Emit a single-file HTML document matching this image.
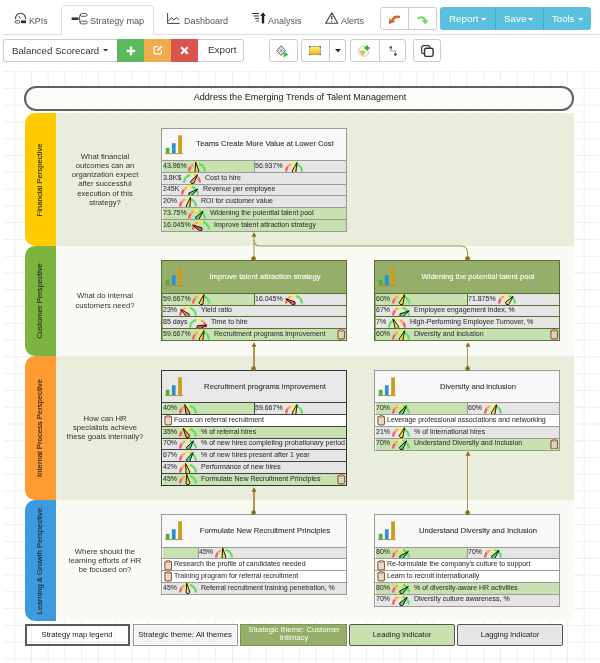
<!DOCTYPE html>
<html><head><meta charset="utf-8"><style>
html,body{margin:0;padding:0}
body{width:600px;height:663px;overflow:hidden;position:relative;background:#fff;font-family:"Liberation Sans",sans-serif}
.a{position:absolute}
.t{white-space:nowrap;will-change:transform}
</style></head><body>
<div class="a" style="left:3.00px;top:33.50px;width:597.00px;height:1.00px;background:#ddd"></div>
<div class="a" style="left:60.60px;top:5.00px;width:93.80px;height:29.50px;background:#fff;border:1px solid #ddd;border-bottom:none;border-radius:4px 4px 0 0;box-sizing:border-box;height:30px"></div>
<div class="a t" style="left:28.70px;top:17.25px;font-size:8.8px;line-height:8.8px;color:#555;">KPIs</div>
<div class="a t" style="left:90.00px;top:17.00px;font-size:9.1px;line-height:9.1px;color:#555;">Strategy map</div>
<div class="a t" style="left:183.70px;top:17.08px;font-size:9px;line-height:9px;color:#555;">Dashboard</div>
<div class="a t" style="left:268.00px;top:17.08px;font-size:9px;line-height:9px;color:#555;">Analysis</div>
<div class="a t" style="left:340.50px;top:17.08px;font-size:9px;line-height:9px;color:#555;">Alerts</div>
<svg class="a" style="left:13.50px;top:12.00px" width="13" height="12" viewBox="0 0 13 12"><path d="M1.6 7.2 A5 5 0 1 1 11.4 7.2" fill="none" stroke="#444" stroke-width="1.1"/><path d="M6.5 6.5 L4.6 4.2" stroke="#444" stroke-width="1"/><rect x="1" y="8.6" width="5" height="2.4" rx="1.2" fill="none" stroke="#444" stroke-width="0.9"/><rect x="7" y="8.4" width="5" height="2.8" fill="#333"/></svg>
<svg class="a" style="left:71.00px;top:11.50px" width="17" height="13" viewBox="0 0 17 13"><rect x="0.6" y="5.4" width="6.6" height="2.6" fill="#333"/><path d="M7 6.7 H8.4 M9.6 3 Q8.6 3 8.6 4.4 V9.6 Q8.6 10.4 9.6 10.4" stroke="#444" stroke-width="0.9" fill="none"/><rect x="9.3" y="1.6" width="6.8" height="2.7" rx="1.35" fill="none" stroke="#444" stroke-width="0.9"/><rect x="9.3" y="9.2" width="6.8" height="2.7" rx="1.35" fill="none" stroke="#444" stroke-width="0.9"/></svg>
<svg class="a" style="left:167.00px;top:13.00px" width="13" height="11" viewBox="0 0 13 11"><path d="M0.6 0 V10.4 H12.8" fill="none" stroke="#444" stroke-width="1"/><path d="M1.5 8 L4.5 4.5 L7 7 L9.5 4.5 L12 6.5" fill="none" stroke="#444" stroke-width="1"/></svg>
<svg class="a" style="left:251.50px;top:12.00px" width="14" height="12" viewBox="0 0 14 12"><path d="M0 1.5 H7 M1.5 4 H7 M3 6.5 H7 M4.5 9 H7" stroke="#333" stroke-width="1.1"/><path d="M11 11.5 V2.5" stroke="#222" stroke-width="2.4"/><path d="M8.3 4 L11 0.3 L13.7 4 Z" fill="#222"/></svg>
<svg class="a" style="left:325.00px;top:12.00px" width="13.5" height="12" viewBox="0 0 13.5 12"><path d="M6.75 0.9 L12.8 11.2 H0.7 Z" fill="none" stroke="#444" stroke-width="1.1" stroke-linejoin="round"/><path d="M6.75 4 V7.8" stroke="#444" stroke-width="1.2"/><circle cx="6.75" cy="9.4" r="0.7" fill="#444"/></svg>
<div class="a" style="left:379.60px;top:7.20px;width:57.50px;height:22.60px;border:1px solid #ccc;border-radius:3px;box-sizing:border-box;background:#fff"></div>
<div class="a" style="left:408.20px;top:7.20px;width:1.00px;height:22.60px;background:#ccc"></div>
<svg class="a" style="left:387.50px;top:15.00px" width="12" height="10" viewBox="0 0 12 10"><path d="M10.8 2 Q6.5 0.6 4.6 5.2" fill="none" stroke="#d2691e" stroke-width="2.4" stroke-linecap="round"/><path d="M0.8 9.2 L1.4 3.6 L7.4 6.6 Z" fill="#d2691e"/></svg>
<svg class="a" style="left:416.50px;top:15.00px" width="12" height="10" viewBox="0 0 12 10"><path d="M1.5 3 Q6.5 1 8.3 5.5" fill="none" stroke="#7fd46a" stroke-width="2.4" stroke-linecap="round"/><path d="M4.6 5.2 L11.6 5.2 L8.3 9.4 Z" fill="#7fd46a"/></svg>
<div class="a" style="left:439.80px;top:7.40px;width:151.70px;height:22.30px;background:#5bc0de;border-radius:3px"></div>
<div class="a" style="left:495.00px;top:7.40px;width:0.80px;height:22.30px;background:#46a9c8"></div>
<div class="a" style="left:542.70px;top:7.40px;width:0.80px;height:22.30px;background:#46a9c8"></div>
<div class="a t" style="left:448.80px;top:13.50px;font-size:9.8px;line-height:9.8px;color:#fff;">Report</div>
<svg class="a" style="left:480.60px;top:17.80px" width="5.2" height="3.0999999999999996" viewBox="0 0 5.2 3.0999999999999996"><path d="M0 0 H5.2 L2.6 2.8 Z" fill="#fff"/></svg>
<div class="a t" style="left:503.50px;top:13.50px;font-size:9.8px;line-height:9.8px;color:#fff;">Save</div>
<svg class="a" style="left:527.80px;top:17.80px" width="5.2" height="3.0999999999999996" viewBox="0 0 5.2 3.0999999999999996"><path d="M0 0 H5.2 L2.6 2.8 Z" fill="#fff"/></svg>
<div class="a t" style="left:552.00px;top:13.67px;font-size:9.6px;line-height:9.6px;color:#fff;">Tools</div>
<svg class="a" style="left:577.50px;top:17.80px" width="5.2" height="3.0999999999999996" viewBox="0 0 5.2 3.0999999999999996"><path d="M0 0 H5.2 L2.6 2.8 Z" fill="#fff"/></svg>
<div class="a" style="left:3.00px;top:38.90px;width:114.00px;height:22.70px;border:1px solid #ccc;border-right:none;border-radius:3px 0 0 3px;box-sizing:border-box;background:#fff"></div>
<div class="a t" style="left:12.40px;top:45.59px;font-size:9.7px;line-height:9.7px;color:#333;">Balanced Scorecard</div>
<svg class="a" style="left:103.00px;top:49.30px" width="5.2" height="2.9" viewBox="0 0 5.2 2.9"><path d="M0 0 H5.2 L2.6 2.6 Z" fill="#333"/></svg>
<div class="a" style="left:116.50px;top:38.90px;width:27.80px;height:22.70px;background:#5cb85c"></div>
<div class="a" style="left:144.30px;top:38.90px;width:26.80px;height:22.70px;background:#f0ad4e"></div>
<div class="a" style="left:171.10px;top:38.90px;width:27.10px;height:22.70px;background:#d9534f"></div>
<div class="a" style="left:198.20px;top:38.90px;width:46.00px;height:22.70px;border:1px solid #ccc;border-left:none;border-radius:0 3px 3px 0;box-sizing:border-box;background:#fff"></div>
<div class="a t" style="left:207.50px;top:45.42px;font-size:9.9px;line-height:9.9px;color:#333;">Export</div>
<svg class="a" style="left:125.50px;top:45.50px" width="10" height="10" viewBox="0 0 10 10"><path d="M5 0.8 V9.2 M0.8 5 H9.2" stroke="#fff" stroke-width="2.3"/></svg>
<svg class="a" style="left:153.00px;top:45.30px" width="10" height="10" viewBox="0 0 10 10"><path d="M5.5 1.6 H2 Q1.2 1.6 1.2 2.4 V8 Q1.2 8.8 2 8.8 H7.6 Q8.4 8.8 8.4 8 V5" fill="none" stroke="#fff" stroke-width="1.3"/><path d="M4 6.2 L4.4 4.6 L8.2 0.8 L9.3 1.9 L5.5 5.7 Z" fill="#fff"/></svg>
<svg class="a" style="left:180.00px;top:45.50px" width="9" height="9" viewBox="0 0 9 9"><path d="M1.2 1.2 L7.8 7.8 M7.8 1.2 L1.2 7.8" stroke="#fff" stroke-width="2.2"/></svg>
<div class="a" style="left:268.50px;top:38.90px;width:29.00px;height:22.70px;border:1px solid #ccc;border-radius:3px;box-sizing:border-box;background:#fff"></div>
<div class="a" style="left:300.50px;top:38.90px;width:45.60px;height:22.70px;border:1px solid #ccc;border-radius:3px;box-sizing:border-box;background:#fff"></div>
<div class="a" style="left:329.00px;top:38.90px;width:1.00px;height:22.70px;background:#ccc"></div>
<div class="a" style="left:349.60px;top:38.90px;width:56.80px;height:22.70px;border:1px solid #ccc;border-radius:3px;box-sizing:border-box;background:#fff"></div>
<div class="a" style="left:378.70px;top:38.90px;width:1.00px;height:22.70px;background:#ccc"></div>
<div class="a" style="left:412.60px;top:38.90px;width:28.60px;height:22.70px;border:1px solid #ccc;border-radius:3px;box-sizing:border-box;background:#fff"></div>
<svg class="a" style="left:276.00px;top:44.50px" width="14" height="13" viewBox="0 0 14 13"><path d="M5.2 0.8 L9.6 5.6 L5.2 10.4 L0.8 5.6 Z" fill="none" stroke="#666" stroke-width="1"/><path d="M5.2 0.8 V10.4 M0.8 5.6 H9.6 M3 3.2 L7.4 8 M7.4 3.2 L3 8" stroke="#888" stroke-width="0.6"/><path d="M7.6 6.4 L12.6 9.4 L7.6 12.4 Z" fill="#33c433"/></svg>
<svg class="a" style="left:308.50px;top:45.80px" width="12" height="9.5" viewBox="0 0 12 9.5"><defs><linearGradient id="yg" x1="0" y1="0" x2="0" y2="1"><stop offset="0" stop-color="#f6ea8a"/><stop offset="0.5" stop-color="#f5d640"/><stop offset="1" stop-color="#f0a830"/></linearGradient></defs><rect x="0.6" y="0.6" width="10.8" height="8.3" fill="url(#yg)" stroke="#9a8a50" stroke-width="0.6"/><circle cx="0.8" cy="0.8" r="0.8" fill="#444"/><circle cx="11.2" cy="0.8" r="0.8" fill="#444"/><circle cx="0.8" cy="8.7" r="0.8" fill="#444"/><circle cx="11.2" cy="8.7" r="0.8" fill="#444"/></svg>
<svg class="a" style="left:334.80px;top:49.20px" width="6" height="3.5" viewBox="0 0 6 3.5"><path d="M0 0 H6 L3.0 3.2 Z" fill="#222"/></svg>
<svg class="a" style="left:358.00px;top:45.00px" width="12.5" height="12" viewBox="0 0 12.5 12"><circle cx="5.8" cy="6.2" r="5.2" fill="#f6f6f0" stroke="#c8c8c0" stroke-width="0.9"/><path d="M2.2 6.4 L5.6 5.8 L6.8 7.6 L4.6 10.4 Z" fill="#e9c430" stroke="#b8961a" stroke-width="0.5"/><path d="M9 0.4 V5.6 M6.4 3 H11.6" stroke="#2bb52b" stroke-width="1.9"/></svg>
<svg class="a" style="left:388.50px;top:45.50px" width="9" height="10" viewBox="0 0 9 10"><circle cx="1.8" cy="1.5" r="1.3" fill="#444"/><circle cx="6.4" cy="8.4" r="1.3" fill="#444"/><path d="M1.8 1.5 V5 H6.4 V8.4" fill="none" stroke="#777" stroke-width="0.7"/></svg>
<svg class="a" style="left:420.50px;top:44.80px" width="13" height="12" viewBox="0 0 13 12"><rect x="0.7" y="0.7" width="8.2" height="8" rx="2" fill="none" stroke="#333" stroke-width="1.2"/><rect x="3.5" y="3.2" width="8.6" height="8.2" rx="2" fill="#fff" stroke="#333" stroke-width="1.4"/></svg>
<div class="a" style="left:4px;top:70px;width:596px;height:593px;background-color:#fff;background-image:linear-gradient(to right,#eeeeee 1px,transparent 1px),linear-gradient(to bottom,#eeeeee 1px,transparent 1px);background-size:16.755px 16.79px;background-position:10.2px 1.1px"></div>
<div class="a" style="left:24.40px;top:86.40px;width:550.10px;height:24.40px;border:2px solid #606060;border-radius:12.2px;box-sizing:border-box;background:#fbfbf7"></div>
<div class="a t" style="left:100.00px;top:93.20px;width:400px;text-align:center;font-size:9.1px;line-height:9.1px;color:#222;">Address the Emerging Trends of Talent Management</div>
<div class="a" style="left:56.30px;top:113.00px;width:518.00px;height:133.00px;background:#e9eddc"></div>
<div class="a" style="left:25.00px;top:113.00px;width:31.30px;height:133.00px;background:#ffcb00;border-radius:10px 0 0 10px"></div>
<div class="a t" style="left:-59.70px;top:174.50px;width:200px;height:10px;line-height:10px;text-align:center;font-size:7.7px;color:#222;-webkit-text-stroke:0.1px #222;transform:rotate(-90deg)">Financial Perspective</div>
<div class="a t" style="left:35.00px;top:152.78px;width:140px;text-align:center;font-size:7.7px;line-height:7.7px;color:#333;">What financial</div>
<div class="a t" style="left:35.00px;top:161.98px;width:140px;text-align:center;font-size:7.7px;line-height:7.7px;color:#333;">outcomes can an</div>
<div class="a t" style="left:35.00px;top:171.18px;width:140px;text-align:center;font-size:7.7px;line-height:7.7px;color:#333;">organization expect</div>
<div class="a t" style="left:35.00px;top:180.38px;width:140px;text-align:center;font-size:7.7px;line-height:7.7px;color:#333;">after successful</div>
<div class="a t" style="left:35.00px;top:189.58px;width:140px;text-align:center;font-size:7.7px;line-height:7.7px;color:#333;">execution of this</div>
<div class="a t" style="left:35.00px;top:198.78px;width:140px;text-align:center;font-size:7.7px;line-height:7.7px;color:#333;">strategy?</div>
<div class="a" style="left:56.30px;top:246.00px;width:518.00px;height:109.50px;background:#fafbf5"></div>
<div class="a" style="left:25.00px;top:246.00px;width:31.30px;height:109.50px;background:#7bb53f;border-radius:10px 0 0 10px"></div>
<div class="a t" style="left:-59.70px;top:295.75px;width:200px;height:10px;line-height:10px;text-align:center;font-size:7.7px;color:#222;-webkit-text-stroke:0.1px #222;transform:rotate(-90deg)">Customer Perspective</div>
<div class="a t" style="left:35.00px;top:292.43px;width:140px;text-align:center;font-size:7.7px;line-height:7.7px;color:#333;">What do internal</div>
<div class="a t" style="left:35.00px;top:301.63px;width:140px;text-align:center;font-size:7.7px;line-height:7.7px;color:#333;">customers need?</div>
<div class="a" style="left:56.30px;top:355.50px;width:518.00px;height:144.50px;background:#e9eddc"></div>
<div class="a" style="left:25.00px;top:355.50px;width:31.30px;height:144.50px;background:#fd9a32;border-radius:10px 0 0 10px"></div>
<div class="a t" style="left:-59.70px;top:422.75px;width:200px;height:10px;line-height:10px;text-align:center;font-size:7.7px;color:#222;-webkit-text-stroke:0.1px #222;transform:rotate(-90deg)">Internal Process Perspective</div>
<div class="a t" style="left:35.00px;top:414.83px;width:140px;text-align:center;font-size:7.7px;line-height:7.7px;color:#333;">How can HR</div>
<div class="a t" style="left:35.00px;top:424.03px;width:140px;text-align:center;font-size:7.7px;line-height:7.7px;color:#333;">specialists achieve</div>
<div class="a t" style="left:35.00px;top:433.23px;width:140px;text-align:center;font-size:7.7px;line-height:7.7px;color:#333;">these goals internally?</div>
<div class="a" style="left:56.30px;top:500.00px;width:518.00px;height:121.00px;background:#fafbf5"></div>
<div class="a" style="left:25.00px;top:500.00px;width:31.30px;height:121.00px;background:#3e9ade;border-radius:10px 0 0 10px"></div>
<div class="a t" style="left:-59.70px;top:555.50px;width:200px;height:10px;line-height:10px;text-align:center;font-size:7.7px;color:#222;-webkit-text-stroke:0.1px #222;transform:rotate(-90deg)">Learning &amp; Growth Perspective</div>
<div class="a t" style="left:35.00px;top:547.58px;width:140px;text-align:center;font-size:7.7px;line-height:7.7px;color:#333;">Where should the</div>
<div class="a t" style="left:35.00px;top:556.78px;width:140px;text-align:center;font-size:7.7px;line-height:7.7px;color:#333;">learning efforts of HR</div>
<div class="a t" style="left:35.00px;top:565.98px;width:140px;text-align:center;font-size:7.7px;line-height:7.7px;color:#333;">be focused on?</div>
<div class="a" style="left:161.20px;top:127.50px;width:186.10px;height:104.30px;background:#f8f8f8;border:1.3px solid #9a9a9a;box-sizing:border-box"></div>
<svg class="a" style="left:164.70px;top:134.50px" width="19" height="20" viewBox="0 0 19 20"><rect x="0.8" y="12.8" width="3.7" height="5.6" fill="#4cb52e"/><rect x="6.9" y="8.2" width="3.7" height="10.2" fill="#2b8fd0"/><rect x="13.2" y="0.3" width="3.7" height="18.1" fill="#cf9a1a"/><path d="M0 18.6 H18" stroke="#a88a40" stroke-width="0.9"/></svg>
<div class="a t" style="left:172.15px;top:140.22px;width:186.1px;text-align:center;font-size:7.65px;line-height:7.65px;color:#333;-webkit-text-stroke:0.1px #333">Teams Create More Value at Lower Cost</div>
<div class="a" style="left:162.50px;top:160.50px;width:91.75px;height:11.75px;background:#c8e1b1"></div>
<div class="a" style="left:254.25px;top:160.50px;width:91.75px;height:11.75px;background:#e5e5e5"></div>
<div class="a" style="left:253.65px;top:160.50px;width:1.20px;height:11.75px;background:#9a9a9a"></div>
<div class="a t" style="left:162.70px;top:161.77px;font-size:7.0px;line-height:7.0px;color:#333;-webkit-text-stroke:0.06px #333">43.96%</div>
<svg class="a" style="left:188.44px;top:161.50px" width="18" height="11.5" viewBox="0 0 18 11.5"><path d="M1.10 9.60 A7.9 7.9 0 0 1 2.77 4.74" fill="none" stroke="#fa5a5a" stroke-width="2.3"/><path d="M2.77 4.74 A7.9 7.9 0 0 1 6.04 2.28" fill="none" stroke="#fca453" stroke-width="2.3"/><path d="M6.04 2.28 A7.9 7.9 0 0 1 10.91 1.93" fill="none" stroke="#fbf03e" stroke-width="2.3"/><path d="M10.91 1.93 A7.9 7.9 0 0 1 16.90 9.60" fill="none" stroke="#62dd62" stroke-width="2.3"/><path d="M7.66 0.09 L10.98 9.32 Q9.31 11.78 7.02 9.88 Z" fill="#f0e030" stroke="#111" stroke-width="0.95" stroke-linejoin="round"/></svg>
<div class="a t" style="left:255.05px;top:161.77px;font-size:7.0px;line-height:7.0px;color:#333;-webkit-text-stroke:0.06px #333">56.937%</div>
<svg class="a" style="left:284.68px;top:161.50px" width="18" height="11.5" viewBox="0 0 18 11.5"><path d="M1.10 9.60 A7.9 7.9 0 0 1 2.77 4.74" fill="none" stroke="#fa5a5a" stroke-width="2.3"/><path d="M2.77 4.74 A7.9 7.9 0 0 1 6.04 2.28" fill="none" stroke="#fca453" stroke-width="2.3"/><path d="M6.04 2.28 A7.9 7.9 0 0 1 10.91 1.93" fill="none" stroke="#fbf03e" stroke-width="2.3"/><path d="M10.91 1.93 A7.9 7.9 0 0 1 16.90 9.60" fill="none" stroke="#62dd62" stroke-width="2.3"/><path d="M11.97 0.47 L10.90 10.22 Q8.32 11.69 7.10 8.98 Z" fill="#f0e030" stroke="#111" stroke-width="0.95" stroke-linejoin="round"/></svg>
<div class="a" style="left:161.20px;top:160.00px;width:186.10px;height:1.05px;background:#9a9a9a"></div>
<div class="a" style="left:162.50px;top:172.25px;width:183.50px;height:11.75px;background:#e5e5e5"></div>
<div class="a t" style="left:162.70px;top:173.52px;font-size:7.0px;line-height:7.0px;color:#333;-webkit-text-stroke:0.06px #333">3.8K$</div>
<svg class="a" style="left:182.99px;top:173.25px" width="18" height="11.5" viewBox="0 0 18 11.5"><path d="M1.10 9.60 A7.9 7.9 0 0 1 7.09 1.93" fill="none" stroke="#62dd62" stroke-width="2.3"/><path d="M7.09 1.93 A7.9 7.9 0 0 1 11.96 2.28" fill="none" stroke="#fbf03e" stroke-width="2.3"/><path d="M11.96 2.28 A7.9 7.9 0 0 1 15.23 4.74" fill="none" stroke="#fca453" stroke-width="2.3"/><path d="M15.23 4.74 A7.9 7.9 0 0 1 16.90 9.60" fill="none" stroke="#fa5a5a" stroke-width="2.3"/><path d="M14.51 1.74 L10.64 10.75 Q7.74 11.40 7.36 8.45 Z" fill="#f59a3a" stroke="#111" stroke-width="0.95" stroke-linejoin="round"/></svg>
<div class="a t" style="left:204.79px;top:173.52px;font-size:7.0px;line-height:7.0px;color:#333;-webkit-text-stroke:0.06px #333">Cost to hire</div>
<div class="a" style="left:161.20px;top:171.75px;width:186.10px;height:1.05px;background:#9a9a9a"></div>
<div class="a" style="left:162.50px;top:184.00px;width:183.50px;height:11.75px;background:#e5e5e5"></div>
<div class="a t" style="left:162.70px;top:185.27px;font-size:7.0px;line-height:7.0px;color:#333;-webkit-text-stroke:0.06px #333">245K</div>
<svg class="a" style="left:181.05px;top:185.00px" width="18" height="11.5" viewBox="0 0 18 11.5"><path d="M1.10 9.60 A7.9 7.9 0 0 1 2.77 4.74" fill="none" stroke="#fa5a5a" stroke-width="2.3"/><path d="M2.77 4.74 A7.9 7.9 0 0 1 6.04 2.28" fill="none" stroke="#fca453" stroke-width="2.3"/><path d="M6.04 2.28 A7.9 7.9 0 0 1 10.91 1.93" fill="none" stroke="#fbf03e" stroke-width="2.3"/><path d="M10.91 1.93 A7.9 7.9 0 0 1 16.90 9.60" fill="none" stroke="#62dd62" stroke-width="2.3"/><path d="M16.86 4.09 L10.15 11.24 Q7.20 10.86 7.85 7.96 Z" fill="#5fd35f" stroke="#111" stroke-width="0.95" stroke-linejoin="round"/></svg>
<div class="a t" style="left:202.85px;top:185.27px;font-size:7.0px;line-height:7.0px;color:#333;-webkit-text-stroke:0.06px #333">Revenue per employee</div>
<div class="a" style="left:161.20px;top:183.50px;width:186.10px;height:1.05px;background:#9a9a9a"></div>
<div class="a" style="left:162.50px;top:195.75px;width:183.50px;height:11.75px;background:#e5e5e5"></div>
<div class="a t" style="left:162.70px;top:197.02px;font-size:7.0px;line-height:7.0px;color:#333;-webkit-text-stroke:0.06px #333">20%</div>
<svg class="a" style="left:178.71px;top:196.75px" width="18" height="11.5" viewBox="0 0 18 11.5"><path d="M1.10 9.60 A7.9 7.9 0 0 1 2.77 4.74" fill="none" stroke="#fa5a5a" stroke-width="2.3"/><path d="M2.77 4.74 A7.9 7.9 0 0 1 6.04 2.28" fill="none" stroke="#fca453" stroke-width="2.3"/><path d="M6.04 2.28 A7.9 7.9 0 0 1 10.91 1.93" fill="none" stroke="#fbf03e" stroke-width="2.3"/><path d="M10.91 1.93 A7.9 7.9 0 0 1 16.90 9.60" fill="none" stroke="#62dd62" stroke-width="2.3"/><path d="M11.48 0.33 L10.93 10.12 Q8.43 11.73 7.07 9.08 Z" fill="#f0e030" stroke="#111" stroke-width="0.95" stroke-linejoin="round"/></svg>
<div class="a t" style="left:200.51px;top:197.02px;font-size:7.0px;line-height:7.0px;color:#333;-webkit-text-stroke:0.06px #333">ROI for customer value</div>
<div class="a" style="left:161.20px;top:195.25px;width:186.10px;height:1.05px;background:#9a9a9a"></div>
<div class="a" style="left:162.50px;top:207.50px;width:183.50px;height:11.75px;background:#c8e1b1"></div>
<div class="a t" style="left:162.70px;top:208.77px;font-size:7.0px;line-height:7.0px;color:#333;-webkit-text-stroke:0.06px #333">73.75%</div>
<svg class="a" style="left:188.44px;top:208.50px" width="18" height="11.5" viewBox="0 0 18 11.5"><path d="M1.10 9.60 A7.9 7.9 0 0 1 2.77 4.74" fill="none" stroke="#fa5a5a" stroke-width="2.3"/><path d="M2.77 4.74 A7.9 7.9 0 0 1 6.04 2.28" fill="none" stroke="#fca453" stroke-width="2.3"/><path d="M6.04 2.28 A7.9 7.9 0 0 1 10.91 1.93" fill="none" stroke="#fbf03e" stroke-width="2.3"/><path d="M10.91 1.93 A7.9 7.9 0 0 1 16.90 9.60" fill="none" stroke="#62dd62" stroke-width="2.3"/><path d="M15.17 2.25 L10.53 10.89 Q7.59 11.29 7.47 8.31 Z" fill="#5fd35f" stroke="#111" stroke-width="0.95" stroke-linejoin="round"/></svg>
<div class="a t" style="left:210.24px;top:208.77px;font-size:7.0px;line-height:7.0px;color:#333;-webkit-text-stroke:0.06px #333">Widening the potential talent pool</div>
<div class="a" style="left:161.20px;top:207.00px;width:186.10px;height:1.05px;background:#9a9a9a"></div>
<div class="a" style="left:162.50px;top:219.25px;width:183.50px;height:12.55px;background:#c8e1b1"></div>
<div class="a t" style="left:162.70px;top:220.52px;font-size:7.0px;line-height:7.0px;color:#333;-webkit-text-stroke:0.06px #333">16.045%</div>
<svg class="a" style="left:192.33px;top:220.25px" width="18" height="11.5" viewBox="0 0 18 11.5"><path d="M1.10 9.60 A7.9 7.9 0 0 1 2.77 4.74" fill="none" stroke="#fa5a5a" stroke-width="2.3"/><path d="M2.77 4.74 A7.9 7.9 0 0 1 6.04 2.28" fill="none" stroke="#fca453" stroke-width="2.3"/><path d="M6.04 2.28 A7.9 7.9 0 0 1 10.91 1.93" fill="none" stroke="#fbf03e" stroke-width="2.3"/><path d="M10.91 1.93 A7.9 7.9 0 0 1 16.90 9.60" fill="none" stroke="#62dd62" stroke-width="2.3"/><path d="M0.52 5.09 L9.94 7.83 Q10.94 10.63 8.06 11.37 Z" fill="#f05050" stroke="#111" stroke-width="0.95" stroke-linejoin="round"/></svg>
<div class="a t" style="left:214.13px;top:220.52px;font-size:7.0px;line-height:7.0px;color:#333;-webkit-text-stroke:0.06px #333">Improve talent attraction strategy</div>
<div class="a" style="left:161.20px;top:218.75px;width:186.10px;height:1.05px;background:#9a9a9a"></div>
<div class="a" style="left:161.20px;top:127.50px;width:186.10px;height:104.30px;border:1.1px solid #9a9a9a;box-sizing:border-box"></div>
<div class="a" style="left:161.20px;top:260.30px;width:186.10px;height:80.80px;background:#95ae69;border:1.3px solid #5a6e3a;box-sizing:border-box"></div>
<svg class="a" style="left:164.70px;top:267.30px" width="19" height="20" viewBox="0 0 19 20"><rect x="0.8" y="12.8" width="3.7" height="5.6" fill="#4cb52e"/><rect x="6.9" y="8.2" width="3.7" height="10.2" fill="#2b8fd0"/><rect x="13.2" y="0.3" width="3.7" height="18.1" fill="#cf9a1a"/><path d="M0 18.6 H18" stroke="#a88a40" stroke-width="0.9"/></svg>
<div class="a t" style="left:172.15px;top:273.02px;width:186.1px;text-align:center;font-size:7.65px;line-height:7.65px;color:#fff;-webkit-text-stroke:0.1px #fff">Improve talent attraction strategy</div>
<div class="a" style="left:162.50px;top:293.30px;width:91.75px;height:11.75px;background:#c8e1b1"></div>
<div class="a" style="left:254.25px;top:293.30px;width:91.75px;height:11.75px;background:#e5e5e5"></div>
<div class="a" style="left:253.65px;top:293.30px;width:1.20px;height:11.75px;background:#5a6e3a"></div>
<div class="a t" style="left:162.70px;top:294.57px;font-size:7.0px;line-height:7.0px;color:#333;-webkit-text-stroke:0.06px #333">59.667%</div>
<svg class="a" style="left:192.33px;top:294.30px" width="18" height="11.5" viewBox="0 0 18 11.5"><path d="M1.10 9.60 A7.9 7.9 0 0 1 2.77 4.74" fill="none" stroke="#fa5a5a" stroke-width="2.3"/><path d="M2.77 4.74 A7.9 7.9 0 0 1 6.04 2.28" fill="none" stroke="#fca453" stroke-width="2.3"/><path d="M6.04 2.28 A7.9 7.9 0 0 1 10.91 1.93" fill="none" stroke="#fbf03e" stroke-width="2.3"/><path d="M10.91 1.93 A7.9 7.9 0 0 1 16.90 9.60" fill="none" stroke="#62dd62" stroke-width="2.3"/><path d="M11.97 0.47 L10.90 10.22 Q8.32 11.69 7.10 8.98 Z" fill="#f0e030" stroke="#111" stroke-width="0.95" stroke-linejoin="round"/></svg>
<div class="a t" style="left:255.05px;top:294.57px;font-size:7.0px;line-height:7.0px;color:#333;-webkit-text-stroke:0.06px #333">16.045%</div>
<svg class="a" style="left:284.68px;top:294.30px" width="18" height="11.5" viewBox="0 0 18 11.5"><path d="M1.10 9.60 A7.9 7.9 0 0 1 2.77 4.74" fill="none" stroke="#fa5a5a" stroke-width="2.3"/><path d="M2.77 4.74 A7.9 7.9 0 0 1 6.04 2.28" fill="none" stroke="#fca453" stroke-width="2.3"/><path d="M6.04 2.28 A7.9 7.9 0 0 1 10.91 1.93" fill="none" stroke="#fbf03e" stroke-width="2.3"/><path d="M10.91 1.93 A7.9 7.9 0 0 1 16.90 9.60" fill="none" stroke="#62dd62" stroke-width="2.3"/><path d="M0.69 4.80 L10.00 7.87 Q10.91 10.70 8.00 11.33 Z" fill="#f05050" stroke="#111" stroke-width="0.95" stroke-linejoin="round"/></svg>
<div class="a" style="left:161.20px;top:292.80px;width:186.10px;height:1.05px;background:#5a6e3a"></div>
<div class="a" style="left:162.50px;top:305.05px;width:183.50px;height:11.75px;background:#e5e5e5"></div>
<div class="a t" style="left:162.70px;top:306.32px;font-size:7.0px;line-height:7.0px;color:#333;-webkit-text-stroke:0.06px #333">23%</div>
<svg class="a" style="left:178.71px;top:306.05px" width="18" height="11.5" viewBox="0 0 18 11.5"><path d="M1.10 9.60 A7.9 7.9 0 0 1 2.77 4.74" fill="none" stroke="#fa5a5a" stroke-width="2.3"/><path d="M2.77 4.74 A7.9 7.9 0 0 1 6.04 2.28" fill="none" stroke="#fca453" stroke-width="2.3"/><path d="M6.04 2.28 A7.9 7.9 0 0 1 10.91 1.93" fill="none" stroke="#fbf03e" stroke-width="2.3"/><path d="M10.91 1.93 A7.9 7.9 0 0 1 16.90 9.60" fill="none" stroke="#62dd62" stroke-width="2.3"/><path d="M1.65 3.43 L10.29 8.07 Q10.69 11.01 7.71 11.13 Z" fill="#f59a3a" stroke="#111" stroke-width="0.95" stroke-linejoin="round"/></svg>
<div class="a t" style="left:200.51px;top:306.32px;font-size:7.0px;line-height:7.0px;color:#333;-webkit-text-stroke:0.06px #333">Yield ratio</div>
<div class="a" style="left:161.20px;top:304.55px;width:186.10px;height:1.05px;background:#5a6e3a"></div>
<div class="a" style="left:162.50px;top:316.80px;width:183.50px;height:11.75px;background:#e5e5e5"></div>
<div class="a t" style="left:162.70px;top:318.07px;font-size:7.0px;line-height:7.0px;color:#333;-webkit-text-stroke:0.06px #333">85 days</div>
<svg class="a" style="left:189.22px;top:317.80px" width="18" height="11.5" viewBox="0 0 18 11.5"><path d="M1.10 9.60 A7.9 7.9 0 0 1 7.09 1.93" fill="none" stroke="#62dd62" stroke-width="2.3"/><path d="M7.09 1.93 A7.9 7.9 0 0 1 11.96 2.28" fill="none" stroke="#fbf03e" stroke-width="2.3"/><path d="M11.96 2.28 A7.9 7.9 0 0 1 15.23 4.74" fill="none" stroke="#fca453" stroke-width="2.3"/><path d="M15.23 4.74 A7.9 7.9 0 0 1 16.90 9.60" fill="none" stroke="#fa5a5a" stroke-width="2.3"/><path d="M18.27 7.12 L9.52 11.53 Q6.87 10.17 8.48 7.67 Z" fill="#f05050" stroke="#111" stroke-width="0.95" stroke-linejoin="round"/></svg>
<div class="a t" style="left:211.02px;top:318.07px;font-size:7.0px;line-height:7.0px;color:#333;-webkit-text-stroke:0.06px #333">Time to hire</div>
<div class="a" style="left:161.20px;top:316.30px;width:186.10px;height:1.05px;background:#5a6e3a"></div>
<div class="a" style="left:162.50px;top:328.55px;width:183.50px;height:12.55px;background:#c8e1b1"></div>
<div class="a t" style="left:162.70px;top:329.82px;font-size:7.0px;line-height:7.0px;color:#333;-webkit-text-stroke:0.06px #333">59.667%</div>
<svg class="a" style="left:192.33px;top:329.55px" width="18" height="11.5" viewBox="0 0 18 11.5"><path d="M1.10 9.60 A7.9 7.9 0 0 1 2.77 4.74" fill="none" stroke="#fa5a5a" stroke-width="2.3"/><path d="M2.77 4.74 A7.9 7.9 0 0 1 6.04 2.28" fill="none" stroke="#fca453" stroke-width="2.3"/><path d="M6.04 2.28 A7.9 7.9 0 0 1 10.91 1.93" fill="none" stroke="#fbf03e" stroke-width="2.3"/><path d="M10.91 1.93 A7.9 7.9 0 0 1 16.90 9.60" fill="none" stroke="#62dd62" stroke-width="2.3"/><path d="M11.97 0.47 L10.90 10.22 Q8.32 11.69 7.10 8.98 Z" fill="#f0e030" stroke="#111" stroke-width="0.95" stroke-linejoin="round"/></svg>
<div class="a t" style="left:214.13px;top:329.82px;font-size:7.0px;line-height:7.0px;color:#333;-webkit-text-stroke:0.06px #333">Recruitment programs improvement</div>
<svg class="a" style="left:337.00px;top:329.35px" width="8.5" height="10.5" viewBox="0 0 8.5 10.5"><rect x="0.9" y="1.4" width="6.6" height="8.4" rx="1.3" fill="rgba(225,222,212,0.75)" stroke="#9c5a30" stroke-width="1.2"/><rect x="2.6" y="0.4" width="3.2" height="2" rx="0.6" fill="#c9b9a9" stroke="#9c5a30" stroke-width="0.6"/><path d="M2.5 4.5 H6 M2.5 6.3 H6 M2.5 8 H6" stroke="#bbb" stroke-width="0.5"/></svg>
<div class="a" style="left:161.20px;top:328.05px;width:186.10px;height:1.05px;background:#5a6e3a"></div>
<div class="a" style="left:161.20px;top:260.30px;width:186.10px;height:80.80px;border:1.1px solid #5a6e3a;box-sizing:border-box"></div>
<div class="a" style="left:374.20px;top:260.30px;width:186.10px;height:80.80px;background:#95ae69;border:1.3px solid #5a6e3a;box-sizing:border-box"></div>
<svg class="a" style="left:377.70px;top:267.30px" width="19" height="20" viewBox="0 0 19 20"><rect x="0.8" y="12.8" width="3.7" height="5.6" fill="#4cb52e"/><rect x="6.9" y="8.2" width="3.7" height="10.2" fill="#2b8fd0"/><rect x="13.2" y="0.3" width="3.7" height="18.1" fill="#cf9a1a"/><path d="M0 18.6 H18" stroke="#a88a40" stroke-width="0.9"/></svg>
<div class="a t" style="left:385.15px;top:273.02px;width:186.1px;text-align:center;font-size:7.65px;line-height:7.65px;color:#fff;-webkit-text-stroke:0.1px #fff">Widening the potential talent pool</div>
<div class="a" style="left:375.50px;top:293.30px;width:91.75px;height:11.75px;background:#c8e1b1"></div>
<div class="a" style="left:467.25px;top:293.30px;width:91.75px;height:11.75px;background:#e5e5e5"></div>
<div class="a" style="left:466.65px;top:293.30px;width:1.20px;height:11.75px;background:#5a6e3a"></div>
<div class="a t" style="left:375.70px;top:294.57px;font-size:7.0px;line-height:7.0px;color:#333;-webkit-text-stroke:0.06px #333">60%</div>
<svg class="a" style="left:391.71px;top:294.30px" width="18" height="11.5" viewBox="0 0 18 11.5"><path d="M1.10 9.60 A7.9 7.9 0 0 1 2.77 4.74" fill="none" stroke="#fa5a5a" stroke-width="2.3"/><path d="M2.77 4.74 A7.9 7.9 0 0 1 6.04 2.28" fill="none" stroke="#fca453" stroke-width="2.3"/><path d="M6.04 2.28 A7.9 7.9 0 0 1 10.91 1.93" fill="none" stroke="#fbf03e" stroke-width="2.3"/><path d="M10.91 1.93 A7.9 7.9 0 0 1 16.90 9.60" fill="none" stroke="#62dd62" stroke-width="2.3"/><path d="M12.60 0.70 L10.85 10.35 Q8.18 11.64 7.15 8.85 Z" fill="#f0e030" stroke="#111" stroke-width="0.95" stroke-linejoin="round"/></svg>
<div class="a t" style="left:468.05px;top:294.57px;font-size:7.0px;line-height:7.0px;color:#333;-webkit-text-stroke:0.06px #333">71.875%</div>
<svg class="a" style="left:497.68px;top:294.30px" width="18" height="11.5" viewBox="0 0 18 11.5"><path d="M1.10 9.60 A7.9 7.9 0 0 1 2.77 4.74" fill="none" stroke="#fa5a5a" stroke-width="2.3"/><path d="M2.77 4.74 A7.9 7.9 0 0 1 6.04 2.28" fill="none" stroke="#fca453" stroke-width="2.3"/><path d="M6.04 2.28 A7.9 7.9 0 0 1 10.91 1.93" fill="none" stroke="#fbf03e" stroke-width="2.3"/><path d="M10.91 1.93 A7.9 7.9 0 0 1 16.90 9.60" fill="none" stroke="#62dd62" stroke-width="2.3"/><path d="M15.17 2.25 L10.53 10.89 Q7.59 11.29 7.47 8.31 Z" fill="#f0e030" stroke="#111" stroke-width="0.95" stroke-linejoin="round"/></svg>
<div class="a" style="left:374.20px;top:292.80px;width:186.10px;height:1.05px;background:#5a6e3a"></div>
<div class="a" style="left:375.50px;top:305.05px;width:183.50px;height:11.75px;background:#e5e5e5"></div>
<div class="a t" style="left:375.70px;top:306.32px;font-size:7.0px;line-height:7.0px;color:#333;-webkit-text-stroke:0.06px #333">67%</div>
<svg class="a" style="left:391.71px;top:306.05px" width="18" height="11.5" viewBox="0 0 18 11.5"><path d="M1.10 9.60 A7.9 7.9 0 0 1 2.77 4.74" fill="none" stroke="#fa5a5a" stroke-width="2.3"/><path d="M2.77 4.74 A7.9 7.9 0 0 1 6.04 2.28" fill="none" stroke="#fca453" stroke-width="2.3"/><path d="M6.04 2.28 A7.9 7.9 0 0 1 10.91 1.93" fill="none" stroke="#fbf03e" stroke-width="2.3"/><path d="M10.91 1.93 A7.9 7.9 0 0 1 16.90 9.60" fill="none" stroke="#62dd62" stroke-width="2.3"/><path d="M17.31 4.80 L10.00 11.33 Q7.09 10.70 8.00 7.87 Z" fill="#5fd35f" stroke="#111" stroke-width="0.95" stroke-linejoin="round"/></svg>
<div class="a t" style="left:413.51px;top:306.32px;font-size:7.0px;line-height:7.0px;color:#333;-webkit-text-stroke:0.06px #333">Employee engagement index, %</div>
<div class="a" style="left:374.20px;top:304.55px;width:186.10px;height:1.05px;background:#5a6e3a"></div>
<div class="a" style="left:375.50px;top:316.80px;width:183.50px;height:11.75px;background:#e5e5e5"></div>
<div class="a t" style="left:375.70px;top:318.07px;font-size:7.0px;line-height:7.0px;color:#333;-webkit-text-stroke:0.06px #333">7%</div>
<svg class="a" style="left:387.82px;top:317.80px" width="18" height="11.5" viewBox="0 0 18 11.5"><path d="M1.10 9.60 A7.9 7.9 0 0 1 7.09 1.93" fill="none" stroke="#62dd62" stroke-width="2.3"/><path d="M7.09 1.93 A7.9 7.9 0 0 1 11.96 2.28" fill="none" stroke="#fbf03e" stroke-width="2.3"/><path d="M11.96 2.28 A7.9 7.9 0 0 1 15.23 4.74" fill="none" stroke="#fca453" stroke-width="2.3"/><path d="M15.23 4.74 A7.9 7.9 0 0 1 16.90 9.60" fill="none" stroke="#fa5a5a" stroke-width="2.3"/><path d="M4.94 0.90 L10.81 8.75 Q9.93 11.59 7.19 10.45 Z" fill="#f0e030" stroke="#111" stroke-width="0.95" stroke-linejoin="round"/></svg>
<div class="a t" style="left:409.62px;top:318.07px;font-size:7.0px;line-height:7.0px;color:#333;-webkit-text-stroke:0.06px #333">High-Performing Employee Turnover, %</div>
<div class="a" style="left:374.20px;top:316.30px;width:186.10px;height:1.05px;background:#5a6e3a"></div>
<div class="a" style="left:375.50px;top:328.55px;width:183.50px;height:12.55px;background:#c8e1b1"></div>
<div class="a t" style="left:375.70px;top:329.82px;font-size:7.0px;line-height:7.0px;color:#333;-webkit-text-stroke:0.06px #333">60%</div>
<svg class="a" style="left:391.71px;top:329.55px" width="18" height="11.5" viewBox="0 0 18 11.5"><path d="M1.10 9.60 A7.9 7.9 0 0 1 2.77 4.74" fill="none" stroke="#fa5a5a" stroke-width="2.3"/><path d="M2.77 4.74 A7.9 7.9 0 0 1 6.04 2.28" fill="none" stroke="#fca453" stroke-width="2.3"/><path d="M6.04 2.28 A7.9 7.9 0 0 1 10.91 1.93" fill="none" stroke="#fbf03e" stroke-width="2.3"/><path d="M10.91 1.93 A7.9 7.9 0 0 1 16.90 9.60" fill="none" stroke="#62dd62" stroke-width="2.3"/><path d="M12.60 0.70 L10.85 10.35 Q8.18 11.64 7.15 8.85 Z" fill="#f0e030" stroke="#111" stroke-width="0.95" stroke-linejoin="round"/></svg>
<div class="a t" style="left:413.51px;top:329.82px;font-size:7.0px;line-height:7.0px;color:#333;-webkit-text-stroke:0.06px #333">Diversity and inclusion</div>
<svg class="a" style="left:550.00px;top:329.35px" width="8.5" height="10.5" viewBox="0 0 8.5 10.5"><rect x="0.9" y="1.4" width="6.6" height="8.4" rx="1.3" fill="rgba(225,222,212,0.75)" stroke="#9c5a30" stroke-width="1.2"/><rect x="2.6" y="0.4" width="3.2" height="2" rx="0.6" fill="#c9b9a9" stroke="#9c5a30" stroke-width="0.6"/><path d="M2.5 4.5 H6 M2.5 6.3 H6 M2.5 8 H6" stroke="#bbb" stroke-width="0.5"/></svg>
<div class="a" style="left:374.20px;top:328.05px;width:186.10px;height:1.05px;background:#5a6e3a"></div>
<div class="a" style="left:374.20px;top:260.30px;width:186.10px;height:80.80px;border:1.1px solid #5a6e3a;box-sizing:border-box"></div>
<div class="a" style="left:161.20px;top:369.80px;width:186.10px;height:116.05px;background:#e8e8e8;border:1.3px solid #333;box-sizing:border-box"></div>
<svg class="a" style="left:164.70px;top:376.80px" width="19" height="20" viewBox="0 0 19 20"><rect x="0.8" y="12.8" width="3.7" height="5.6" fill="#4cb52e"/><rect x="6.9" y="8.2" width="3.7" height="10.2" fill="#2b8fd0"/><rect x="13.2" y="0.3" width="3.7" height="18.1" fill="#cf9a1a"/><path d="M0 18.6 H18" stroke="#a88a40" stroke-width="0.9"/></svg>
<div class="a t" style="left:172.15px;top:382.52px;width:186.1px;text-align:center;font-size:7.65px;line-height:7.65px;color:#333;-webkit-text-stroke:0.1px #333">Recruitment programs improvement</div>
<div class="a" style="left:162.50px;top:402.80px;width:91.75px;height:11.75px;background:#c8e1b1"></div>
<div class="a" style="left:254.25px;top:402.80px;width:91.75px;height:11.75px;background:#e5e5e5"></div>
<div class="a" style="left:253.65px;top:402.80px;width:1.20px;height:11.75px;background:#444"></div>
<div class="a t" style="left:162.70px;top:404.07px;font-size:7.0px;line-height:7.0px;color:#333;-webkit-text-stroke:0.06px #333">40%</div>
<svg class="a" style="left:178.71px;top:403.80px" width="18" height="11.5" viewBox="0 0 18 11.5"><path d="M1.10 9.60 A7.9 7.9 0 0 1 2.77 4.74" fill="none" stroke="#fa5a5a" stroke-width="2.3"/><path d="M2.77 4.74 A7.9 7.9 0 0 1 6.04 2.28" fill="none" stroke="#fca453" stroke-width="2.3"/><path d="M6.04 2.28 A7.9 7.9 0 0 1 10.91 1.93" fill="none" stroke="#fbf03e" stroke-width="2.3"/><path d="M10.91 1.93 A7.9 7.9 0 0 1 16.90 9.60" fill="none" stroke="#62dd62" stroke-width="2.3"/><path d="M5.72 0.58 L10.88 8.92 Q9.75 11.67 7.12 10.28 Z" fill="#f59a3a" stroke="#111" stroke-width="0.95" stroke-linejoin="round"/></svg>
<div class="a t" style="left:255.05px;top:404.07px;font-size:7.0px;line-height:7.0px;color:#333;-webkit-text-stroke:0.06px #333">59.667%</div>
<svg class="a" style="left:284.68px;top:403.80px" width="18" height="11.5" viewBox="0 0 18 11.5"><path d="M1.10 9.60 A7.9 7.9 0 0 1 2.77 4.74" fill="none" stroke="#fa5a5a" stroke-width="2.3"/><path d="M2.77 4.74 A7.9 7.9 0 0 1 6.04 2.28" fill="none" stroke="#fca453" stroke-width="2.3"/><path d="M6.04 2.28 A7.9 7.9 0 0 1 10.91 1.93" fill="none" stroke="#fbf03e" stroke-width="2.3"/><path d="M10.91 1.93 A7.9 7.9 0 0 1 16.90 9.60" fill="none" stroke="#62dd62" stroke-width="2.3"/><path d="M11.97 0.47 L10.90 10.22 Q8.32 11.69 7.10 8.98 Z" fill="#f0e030" stroke="#111" stroke-width="0.95" stroke-linejoin="round"/></svg>
<div class="a" style="left:161.20px;top:402.30px;width:186.10px;height:1.05px;background:#444"></div>
<div class="a" style="left:162.50px;top:414.55px;width:183.50px;height:11.75px;background:#fff"></div>
<svg class="a" style="left:163.50px;top:415.35px" width="8.5" height="10.5" viewBox="0 0 8.5 10.5"><rect x="0.9" y="1.4" width="6.6" height="8.4" rx="1.3" fill="rgba(225,222,212,0.75)" stroke="#9c5a30" stroke-width="1.2"/><rect x="2.6" y="0.4" width="3.2" height="2" rx="0.6" fill="#c9b9a9" stroke="#9c5a30" stroke-width="0.6"/><path d="M2.5 4.5 H6 M2.5 6.3 H6 M2.5 8 H6" stroke="#bbb" stroke-width="0.5"/></svg>
<div class="a t" style="left:173.80px;top:415.82px;font-size:7.0px;line-height:7.0px;color:#333;-webkit-text-stroke:0.06px #333">Focus on referral recruitment</div>
<div class="a" style="left:161.20px;top:414.05px;width:186.10px;height:1.05px;background:#444"></div>
<div class="a" style="left:162.50px;top:426.30px;width:183.50px;height:11.75px;background:#c8e1b1"></div>
<div class="a t" style="left:162.70px;top:427.57px;font-size:7.0px;line-height:7.0px;color:#333;-webkit-text-stroke:0.06px #333">35%</div>
<svg class="a" style="left:178.71px;top:427.30px" width="18" height="11.5" viewBox="0 0 18 11.5"><path d="M1.10 9.60 A7.9 7.9 0 0 1 2.77 4.74" fill="none" stroke="#fa5a5a" stroke-width="2.3"/><path d="M2.77 4.74 A7.9 7.9 0 0 1 6.04 2.28" fill="none" stroke="#fca453" stroke-width="2.3"/><path d="M6.04 2.28 A7.9 7.9 0 0 1 10.91 1.93" fill="none" stroke="#fbf03e" stroke-width="2.3"/><path d="M10.91 1.93 A7.9 7.9 0 0 1 16.90 9.60" fill="none" stroke="#62dd62" stroke-width="2.3"/><path d="M4.20 1.29 L10.73 8.60 Q10.10 11.51 7.27 10.60 Z" fill="#f59a3a" stroke="#111" stroke-width="0.95" stroke-linejoin="round"/></svg>
<div class="a t" style="left:200.51px;top:427.57px;font-size:7.0px;line-height:7.0px;color:#333;-webkit-text-stroke:0.06px #333">% of referral hires</div>
<div class="a" style="left:161.20px;top:425.80px;width:186.10px;height:1.05px;background:#444"></div>
<div class="a" style="left:162.50px;top:438.05px;width:183.50px;height:11.75px;background:#e5e5e5"></div>
<div class="a t" style="left:162.70px;top:439.32px;font-size:7.0px;line-height:7.0px;color:#333;-webkit-text-stroke:0.06px #333">70%</div>
<svg class="a" style="left:178.71px;top:439.05px" width="18" height="11.5" viewBox="0 0 18 11.5"><path d="M1.10 9.60 A7.9 7.9 0 0 1 2.77 4.74" fill="none" stroke="#fa5a5a" stroke-width="2.3"/><path d="M2.77 4.74 A7.9 7.9 0 0 1 6.04 2.28" fill="none" stroke="#fca453" stroke-width="2.3"/><path d="M6.04 2.28 A7.9 7.9 0 0 1 10.91 1.93" fill="none" stroke="#fbf03e" stroke-width="2.3"/><path d="M10.91 1.93 A7.9 7.9 0 0 1 16.90 9.60" fill="none" stroke="#62dd62" stroke-width="2.3"/><path d="M14.51 1.74 L10.64 10.75 Q7.74 11.40 7.36 8.45 Z" fill="#5fd35f" stroke="#111" stroke-width="0.95" stroke-linejoin="round"/></svg>
<div class="a t" style="left:200.51px;top:439.32px;font-size:7.0px;line-height:7.0px;color:#333;-webkit-text-stroke:0.06px #333">% of new hires completing probationary period</div>
<div class="a" style="left:161.20px;top:437.55px;width:186.10px;height:1.05px;background:#444"></div>
<div class="a" style="left:162.50px;top:449.80px;width:183.50px;height:11.75px;background:#e5e5e5"></div>
<div class="a t" style="left:162.70px;top:451.07px;font-size:7.0px;line-height:7.0px;color:#333;-webkit-text-stroke:0.06px #333">67%</div>
<svg class="a" style="left:178.71px;top:450.80px" width="18" height="11.5" viewBox="0 0 18 11.5"><path d="M1.10 9.60 A7.9 7.9 0 0 1 2.77 4.74" fill="none" stroke="#fa5a5a" stroke-width="2.3"/><path d="M2.77 4.74 A7.9 7.9 0 0 1 6.04 2.28" fill="none" stroke="#fca453" stroke-width="2.3"/><path d="M6.04 2.28 A7.9 7.9 0 0 1 10.91 1.93" fill="none" stroke="#fbf03e" stroke-width="2.3"/><path d="M10.91 1.93 A7.9 7.9 0 0 1 16.90 9.60" fill="none" stroke="#62dd62" stroke-width="2.3"/><path d="M14.09 1.46 L10.70 10.66 Q7.83 11.47 7.30 8.54 Z" fill="#5fd35f" stroke="#111" stroke-width="0.95" stroke-linejoin="round"/></svg>
<div class="a t" style="left:200.51px;top:451.07px;font-size:7.0px;line-height:7.0px;color:#333;-webkit-text-stroke:0.06px #333">% of new hires present after 1 year</div>
<div class="a" style="left:161.20px;top:449.30px;width:186.10px;height:1.05px;background:#444"></div>
<div class="a" style="left:162.50px;top:461.55px;width:183.50px;height:11.75px;background:#e5e5e5"></div>
<div class="a t" style="left:162.70px;top:462.82px;font-size:7.0px;line-height:7.0px;color:#333;-webkit-text-stroke:0.06px #333">42%</div>
<svg class="a" style="left:178.71px;top:462.55px" width="18" height="11.5" viewBox="0 0 18 11.5"><path d="M1.10 9.60 A7.9 7.9 0 0 1 2.77 4.74" fill="none" stroke="#fa5a5a" stroke-width="2.3"/><path d="M2.77 4.74 A7.9 7.9 0 0 1 6.04 2.28" fill="none" stroke="#fca453" stroke-width="2.3"/><path d="M6.04 2.28 A7.9 7.9 0 0 1 10.91 1.93" fill="none" stroke="#fbf03e" stroke-width="2.3"/><path d="M10.91 1.93 A7.9 7.9 0 0 1 16.90 9.60" fill="none" stroke="#62dd62" stroke-width="2.3"/><path d="M6.52 0.33 L10.93 9.08 Q9.57 11.73 7.07 10.12 Z" fill="#f0e030" stroke="#111" stroke-width="0.95" stroke-linejoin="round"/></svg>
<div class="a t" style="left:200.51px;top:462.82px;font-size:7.0px;line-height:7.0px;color:#333;-webkit-text-stroke:0.06px #333">Performance of new hires</div>
<div class="a" style="left:161.20px;top:461.05px;width:186.10px;height:1.05px;background:#444"></div>
<div class="a" style="left:162.50px;top:473.30px;width:183.50px;height:12.55px;background:#c8e1b1"></div>
<div class="a t" style="left:162.70px;top:474.57px;font-size:7.0px;line-height:7.0px;color:#333;-webkit-text-stroke:0.06px #333">45%</div>
<svg class="a" style="left:178.71px;top:474.30px" width="18" height="11.5" viewBox="0 0 18 11.5"><path d="M1.10 9.60 A7.9 7.9 0 0 1 2.77 4.74" fill="none" stroke="#fa5a5a" stroke-width="2.3"/><path d="M2.77 4.74 A7.9 7.9 0 0 1 6.04 2.28" fill="none" stroke="#fca453" stroke-width="2.3"/><path d="M6.04 2.28 A7.9 7.9 0 0 1 10.91 1.93" fill="none" stroke="#fbf03e" stroke-width="2.3"/><path d="M10.91 1.93 A7.9 7.9 0 0 1 16.90 9.60" fill="none" stroke="#62dd62" stroke-width="2.3"/><path d="M7.66 0.09 L10.98 9.32 Q9.31 11.78 7.02 9.88 Z" fill="#f0e030" stroke="#111" stroke-width="0.95" stroke-linejoin="round"/></svg>
<div class="a t" style="left:200.51px;top:474.57px;font-size:7.0px;line-height:7.0px;color:#333;-webkit-text-stroke:0.06px #333">Formulate New Recruitment Principles</div>
<svg class="a" style="left:337.00px;top:474.10px" width="8.5" height="10.5" viewBox="0 0 8.5 10.5"><rect x="0.9" y="1.4" width="6.6" height="8.4" rx="1.3" fill="rgba(225,222,212,0.75)" stroke="#9c5a30" stroke-width="1.2"/><rect x="2.6" y="0.4" width="3.2" height="2" rx="0.6" fill="#c9b9a9" stroke="#9c5a30" stroke-width="0.6"/><path d="M2.5 4.5 H6 M2.5 6.3 H6 M2.5 8 H6" stroke="#bbb" stroke-width="0.5"/></svg>
<div class="a" style="left:161.20px;top:472.80px;width:186.10px;height:1.05px;background:#444"></div>
<div class="a" style="left:161.20px;top:369.80px;width:186.10px;height:116.05px;border:1.1px solid #333;box-sizing:border-box"></div>
<div class="a" style="left:374.20px;top:369.80px;width:186.10px;height:80.80px;background:#f8f8f8;border:1.3px solid #9a9a9a;box-sizing:border-box"></div>
<svg class="a" style="left:377.70px;top:376.80px" width="19" height="20" viewBox="0 0 19 20"><rect x="0.8" y="12.8" width="3.7" height="5.6" fill="#4cb52e"/><rect x="6.9" y="8.2" width="3.7" height="10.2" fill="#2b8fd0"/><rect x="13.2" y="0.3" width="3.7" height="18.1" fill="#cf9a1a"/><path d="M0 18.6 H18" stroke="#a88a40" stroke-width="0.9"/></svg>
<div class="a t" style="left:385.15px;top:382.52px;width:186.1px;text-align:center;font-size:7.65px;line-height:7.65px;color:#333;-webkit-text-stroke:0.1px #333">Diversity and inclusion</div>
<div class="a" style="left:375.50px;top:402.80px;width:91.75px;height:11.75px;background:#c8e1b1"></div>
<div class="a" style="left:467.25px;top:402.80px;width:91.75px;height:11.75px;background:#e5e5e5"></div>
<div class="a" style="left:466.65px;top:402.80px;width:1.20px;height:11.75px;background:#9a9a9a"></div>
<div class="a t" style="left:375.70px;top:404.07px;font-size:7.0px;line-height:7.0px;color:#333;-webkit-text-stroke:0.06px #333">70%</div>
<svg class="a" style="left:391.71px;top:403.80px" width="18" height="11.5" viewBox="0 0 18 11.5"><path d="M1.10 9.60 A7.9 7.9 0 0 1 2.77 4.74" fill="none" stroke="#fa5a5a" stroke-width="2.3"/><path d="M2.77 4.74 A7.9 7.9 0 0 1 6.04 2.28" fill="none" stroke="#fca453" stroke-width="2.3"/><path d="M6.04 2.28 A7.9 7.9 0 0 1 10.91 1.93" fill="none" stroke="#fbf03e" stroke-width="2.3"/><path d="M10.91 1.93 A7.9 7.9 0 0 1 16.90 9.60" fill="none" stroke="#62dd62" stroke-width="2.3"/><path d="M14.51 1.74 L10.64 10.75 Q7.74 11.40 7.36 8.45 Z" fill="#5fd35f" stroke="#111" stroke-width="0.95" stroke-linejoin="round"/></svg>
<div class="a t" style="left:468.05px;top:404.07px;font-size:7.0px;line-height:7.0px;color:#333;-webkit-text-stroke:0.06px #333">60%</div>
<svg class="a" style="left:484.06px;top:403.80px" width="18" height="11.5" viewBox="0 0 18 11.5"><path d="M1.10 9.60 A7.9 7.9 0 0 1 2.77 4.74" fill="none" stroke="#fa5a5a" stroke-width="2.3"/><path d="M2.77 4.74 A7.9 7.9 0 0 1 6.04 2.28" fill="none" stroke="#fca453" stroke-width="2.3"/><path d="M6.04 2.28 A7.9 7.9 0 0 1 10.91 1.93" fill="none" stroke="#fbf03e" stroke-width="2.3"/><path d="M10.91 1.93 A7.9 7.9 0 0 1 16.90 9.60" fill="none" stroke="#62dd62" stroke-width="2.3"/><path d="M12.60 0.70 L10.85 10.35 Q8.18 11.64 7.15 8.85 Z" fill="#f0e030" stroke="#111" stroke-width="0.95" stroke-linejoin="round"/></svg>
<div class="a" style="left:374.20px;top:402.30px;width:186.10px;height:1.05px;background:#9a9a9a"></div>
<div class="a" style="left:375.50px;top:414.55px;width:183.50px;height:11.75px;background:#fff"></div>
<svg class="a" style="left:376.50px;top:415.35px" width="8.5" height="10.5" viewBox="0 0 8.5 10.5"><rect x="0.9" y="1.4" width="6.6" height="8.4" rx="1.3" fill="rgba(225,222,212,0.75)" stroke="#9c5a30" stroke-width="1.2"/><rect x="2.6" y="0.4" width="3.2" height="2" rx="0.6" fill="#c9b9a9" stroke="#9c5a30" stroke-width="0.6"/><path d="M2.5 4.5 H6 M2.5 6.3 H6 M2.5 8 H6" stroke="#bbb" stroke-width="0.5"/></svg>
<div class="a t" style="left:386.80px;top:415.82px;font-size:7.0px;line-height:7.0px;color:#333;-webkit-text-stroke:0.06px #333">Leverage professional associations and networking</div>
<div class="a" style="left:374.20px;top:414.05px;width:186.10px;height:1.05px;background:#9a9a9a"></div>
<div class="a" style="left:375.50px;top:426.30px;width:183.50px;height:11.75px;background:#e5e5e5"></div>
<div class="a t" style="left:375.70px;top:427.57px;font-size:7.0px;line-height:7.0px;color:#333;-webkit-text-stroke:0.06px #333">21%</div>
<svg class="a" style="left:391.71px;top:427.30px" width="18" height="11.5" viewBox="0 0 18 11.5"><path d="M1.10 9.60 A7.9 7.9 0 0 1 2.77 4.74" fill="none" stroke="#fa5a5a" stroke-width="2.3"/><path d="M2.77 4.74 A7.9 7.9 0 0 1 6.04 2.28" fill="none" stroke="#fca453" stroke-width="2.3"/><path d="M6.04 2.28 A7.9 7.9 0 0 1 10.91 1.93" fill="none" stroke="#fbf03e" stroke-width="2.3"/><path d="M10.91 1.93 A7.9 7.9 0 0 1 16.90 9.60" fill="none" stroke="#62dd62" stroke-width="2.3"/><path d="M12.60 0.70 L10.85 10.35 Q8.18 11.64 7.15 8.85 Z" fill="#f0e030" stroke="#111" stroke-width="0.95" stroke-linejoin="round"/></svg>
<div class="a t" style="left:413.51px;top:427.57px;font-size:7.0px;line-height:7.0px;color:#333;-webkit-text-stroke:0.06px #333">% of international hires</div>
<div class="a" style="left:374.20px;top:425.80px;width:186.10px;height:1.05px;background:#9a9a9a"></div>
<div class="a" style="left:375.50px;top:438.05px;width:183.50px;height:12.55px;background:#c8e1b1"></div>
<div class="a t" style="left:375.70px;top:439.32px;font-size:7.0px;line-height:7.0px;color:#333;-webkit-text-stroke:0.06px #333">70%</div>
<svg class="a" style="left:391.71px;top:439.05px" width="18" height="11.5" viewBox="0 0 18 11.5"><path d="M1.10 9.60 A7.9 7.9 0 0 1 2.77 4.74" fill="none" stroke="#fa5a5a" stroke-width="2.3"/><path d="M2.77 4.74 A7.9 7.9 0 0 1 6.04 2.28" fill="none" stroke="#fca453" stroke-width="2.3"/><path d="M6.04 2.28 A7.9 7.9 0 0 1 10.91 1.93" fill="none" stroke="#fbf03e" stroke-width="2.3"/><path d="M10.91 1.93 A7.9 7.9 0 0 1 16.90 9.60" fill="none" stroke="#62dd62" stroke-width="2.3"/><path d="M14.51 1.74 L10.64 10.75 Q7.74 11.40 7.36 8.45 Z" fill="#5fd35f" stroke="#111" stroke-width="0.95" stroke-linejoin="round"/></svg>
<div class="a t" style="left:413.51px;top:439.32px;font-size:7.0px;line-height:7.0px;color:#333;-webkit-text-stroke:0.06px #333">Understand Diversity and Inclusion</div>
<svg class="a" style="left:550.00px;top:438.85px" width="8.5" height="10.5" viewBox="0 0 8.5 10.5"><rect x="0.9" y="1.4" width="6.6" height="8.4" rx="1.3" fill="rgba(225,222,212,0.75)" stroke="#9c5a30" stroke-width="1.2"/><rect x="2.6" y="0.4" width="3.2" height="2" rx="0.6" fill="#c9b9a9" stroke="#9c5a30" stroke-width="0.6"/><path d="M2.5 4.5 H6 M2.5 6.3 H6 M2.5 8 H6" stroke="#bbb" stroke-width="0.5"/></svg>
<div class="a" style="left:374.20px;top:437.55px;width:186.10px;height:1.05px;background:#9a9a9a"></div>
<div class="a" style="left:374.20px;top:369.80px;width:186.10px;height:80.80px;border:1.1px solid #9a9a9a;box-sizing:border-box"></div>
<div class="a" style="left:161.20px;top:514.00px;width:186.10px;height:80.80px;background:#f8f8f8;border:1.3px solid #9a9a9a;box-sizing:border-box"></div>
<svg class="a" style="left:164.70px;top:521.00px" width="19" height="20" viewBox="0 0 19 20"><rect x="0.8" y="12.8" width="3.7" height="5.6" fill="#4cb52e"/><rect x="6.9" y="8.2" width="3.7" height="10.2" fill="#2b8fd0"/><rect x="13.2" y="0.3" width="3.7" height="18.1" fill="#cf9a1a"/><path d="M0 18.6 H18" stroke="#a88a40" stroke-width="0.9"/></svg>
<div class="a t" style="left:172.15px;top:526.72px;width:186.1px;text-align:center;font-size:7.65px;line-height:7.65px;color:#333;-webkit-text-stroke:0.1px #333">Formulate New Recruitment Principles</div>
<div class="a" style="left:162.50px;top:547.00px;width:35.80px;height:11.75px;background:#c8e1b1"></div>
<div class="a" style="left:198.30px;top:547.00px;width:147.70px;height:11.75px;background:#e5e5e5"></div>
<div class="a" style="left:197.70px;top:547.00px;width:1.20px;height:11.75px;background:#9a9a9a"></div>
<div class="a t" style="left:199.10px;top:548.27px;font-size:7.0px;line-height:7.0px;color:#333;-webkit-text-stroke:0.06px #333">45%</div>
<svg class="a" style="left:215.11px;top:548.00px" width="18" height="11.5" viewBox="0 0 18 11.5"><path d="M1.10 9.60 A7.9 7.9 0 0 1 2.77 4.74" fill="none" stroke="#fa5a5a" stroke-width="2.3"/><path d="M2.77 4.74 A7.9 7.9 0 0 1 6.04 2.28" fill="none" stroke="#fca453" stroke-width="2.3"/><path d="M6.04 2.28 A7.9 7.9 0 0 1 10.91 1.93" fill="none" stroke="#fbf03e" stroke-width="2.3"/><path d="M10.91 1.93 A7.9 7.9 0 0 1 16.90 9.60" fill="none" stroke="#62dd62" stroke-width="2.3"/><path d="M7.66 0.09 L10.98 9.32 Q9.31 11.78 7.02 9.88 Z" fill="#f0e030" stroke="#111" stroke-width="0.95" stroke-linejoin="round"/></svg>
<div class="a" style="left:161.20px;top:546.50px;width:186.10px;height:1.05px;background:#9a9a9a"></div>
<div class="a" style="left:162.50px;top:558.75px;width:183.50px;height:11.75px;background:#fff"></div>
<svg class="a" style="left:163.50px;top:559.55px" width="8.5" height="10.5" viewBox="0 0 8.5 10.5"><rect x="0.9" y="1.4" width="6.6" height="8.4" rx="1.3" fill="rgba(225,222,212,0.75)" stroke="#9c5a30" stroke-width="1.2"/><rect x="2.6" y="0.4" width="3.2" height="2" rx="0.6" fill="#c9b9a9" stroke="#9c5a30" stroke-width="0.6"/><path d="M2.5 4.5 H6 M2.5 6.3 H6 M2.5 8 H6" stroke="#bbb" stroke-width="0.5"/></svg>
<div class="a t" style="left:173.80px;top:560.02px;font-size:7.0px;line-height:7.0px;color:#333;-webkit-text-stroke:0.06px #333">Research the profile of candidates needed</div>
<div class="a" style="left:161.20px;top:558.25px;width:186.10px;height:1.05px;background:#9a9a9a"></div>
<div class="a" style="left:162.50px;top:570.50px;width:183.50px;height:11.75px;background:#fff"></div>
<svg class="a" style="left:163.50px;top:571.30px" width="8.5" height="10.5" viewBox="0 0 8.5 10.5"><rect x="0.9" y="1.4" width="6.6" height="8.4" rx="1.3" fill="rgba(225,222,212,0.75)" stroke="#9c5a30" stroke-width="1.2"/><rect x="2.6" y="0.4" width="3.2" height="2" rx="0.6" fill="#c9b9a9" stroke="#9c5a30" stroke-width="0.6"/><path d="M2.5 4.5 H6 M2.5 6.3 H6 M2.5 8 H6" stroke="#bbb" stroke-width="0.5"/></svg>
<div class="a t" style="left:173.80px;top:571.77px;font-size:7.0px;line-height:7.0px;color:#333;-webkit-text-stroke:0.06px #333">Training program for referral recruitment</div>
<div class="a" style="left:161.20px;top:570.00px;width:186.10px;height:1.05px;background:#9a9a9a"></div>
<div class="a" style="left:162.50px;top:582.25px;width:183.50px;height:12.55px;background:#e5e5e5"></div>
<div class="a t" style="left:162.70px;top:583.52px;font-size:7.0px;line-height:7.0px;color:#333;-webkit-text-stroke:0.06px #333">45%</div>
<svg class="a" style="left:178.71px;top:583.25px" width="18" height="11.5" viewBox="0 0 18 11.5"><path d="M1.10 9.60 A7.9 7.9 0 0 1 2.77 4.74" fill="none" stroke="#fa5a5a" stroke-width="2.3"/><path d="M2.77 4.74 A7.9 7.9 0 0 1 6.04 2.28" fill="none" stroke="#fca453" stroke-width="2.3"/><path d="M6.04 2.28 A7.9 7.9 0 0 1 10.91 1.93" fill="none" stroke="#fbf03e" stroke-width="2.3"/><path d="M10.91 1.93 A7.9 7.9 0 0 1 16.90 9.60" fill="none" stroke="#62dd62" stroke-width="2.3"/><path d="M7.66 0.09 L10.98 9.32 Q9.31 11.78 7.02 9.88 Z" fill="#f0e030" stroke="#111" stroke-width="0.95" stroke-linejoin="round"/></svg>
<div class="a t" style="left:200.51px;top:583.52px;font-size:7.0px;line-height:7.0px;color:#333;-webkit-text-stroke:0.06px #333">Referral recruitment training penetration, %</div>
<div class="a" style="left:161.20px;top:581.75px;width:186.10px;height:1.05px;background:#9a9a9a"></div>
<div class="a" style="left:161.20px;top:514.00px;width:186.10px;height:80.80px;border:1.1px solid #9a9a9a;box-sizing:border-box"></div>
<div class="a" style="left:374.20px;top:514.00px;width:186.10px;height:92.55px;background:#f8f8f8;border:1.3px solid #9a9a9a;box-sizing:border-box"></div>
<svg class="a" style="left:377.70px;top:521.00px" width="19" height="20" viewBox="0 0 19 20"><rect x="0.8" y="12.8" width="3.7" height="5.6" fill="#4cb52e"/><rect x="6.9" y="8.2" width="3.7" height="10.2" fill="#2b8fd0"/><rect x="13.2" y="0.3" width="3.7" height="18.1" fill="#cf9a1a"/><path d="M0 18.6 H18" stroke="#a88a40" stroke-width="0.9"/></svg>
<div class="a t" style="left:385.15px;top:526.72px;width:186.1px;text-align:center;font-size:7.65px;line-height:7.65px;color:#333;-webkit-text-stroke:0.1px #333">Understand Diversity and Inclusion</div>
<div class="a" style="left:375.50px;top:547.00px;width:91.75px;height:11.75px;background:#c8e1b1"></div>
<div class="a" style="left:467.25px;top:547.00px;width:91.75px;height:11.75px;background:#e5e5e5"></div>
<div class="a" style="left:466.65px;top:547.00px;width:1.20px;height:11.75px;background:#9a9a9a"></div>
<div class="a t" style="left:375.70px;top:548.27px;font-size:7.0px;line-height:7.0px;color:#333;-webkit-text-stroke:0.06px #333">80%</div>
<svg class="a" style="left:391.71px;top:548.00px" width="18" height="11.5" viewBox="0 0 18 11.5"><path d="M1.10 9.60 A7.9 7.9 0 0 1 2.77 4.74" fill="none" stroke="#fa5a5a" stroke-width="2.3"/><path d="M2.77 4.74 A7.9 7.9 0 0 1 6.04 2.28" fill="none" stroke="#fca453" stroke-width="2.3"/><path d="M6.04 2.28 A7.9 7.9 0 0 1 10.91 1.93" fill="none" stroke="#fbf03e" stroke-width="2.3"/><path d="M10.91 1.93 A7.9 7.9 0 0 1 16.90 9.60" fill="none" stroke="#62dd62" stroke-width="2.3"/><path d="M16.35 3.43 L10.29 11.13 Q7.31 11.01 7.71 8.07 Z" fill="#5fd35f" stroke="#111" stroke-width="0.95" stroke-linejoin="round"/></svg>
<div class="a t" style="left:468.05px;top:548.27px;font-size:7.0px;line-height:7.0px;color:#333;-webkit-text-stroke:0.06px #333">70%</div>
<svg class="a" style="left:484.06px;top:548.00px" width="18" height="11.5" viewBox="0 0 18 11.5"><path d="M1.10 9.60 A7.9 7.9 0 0 1 2.77 4.74" fill="none" stroke="#fa5a5a" stroke-width="2.3"/><path d="M2.77 4.74 A7.9 7.9 0 0 1 6.04 2.28" fill="none" stroke="#fca453" stroke-width="2.3"/><path d="M6.04 2.28 A7.9 7.9 0 0 1 10.91 1.93" fill="none" stroke="#fbf03e" stroke-width="2.3"/><path d="M10.91 1.93 A7.9 7.9 0 0 1 16.90 9.60" fill="none" stroke="#62dd62" stroke-width="2.3"/><path d="M15.17 2.25 L10.53 10.89 Q7.59 11.29 7.47 8.31 Z" fill="#5fd35f" stroke="#111" stroke-width="0.95" stroke-linejoin="round"/></svg>
<div class="a" style="left:374.20px;top:546.50px;width:186.10px;height:1.05px;background:#9a9a9a"></div>
<div class="a" style="left:375.50px;top:558.75px;width:183.50px;height:11.75px;background:#fff"></div>
<svg class="a" style="left:376.50px;top:559.55px" width="8.5" height="10.5" viewBox="0 0 8.5 10.5"><rect x="0.9" y="1.4" width="6.6" height="8.4" rx="1.3" fill="rgba(225,222,212,0.75)" stroke="#9c5a30" stroke-width="1.2"/><rect x="2.6" y="0.4" width="3.2" height="2" rx="0.6" fill="#c9b9a9" stroke="#9c5a30" stroke-width="0.6"/><path d="M2.5 4.5 H6 M2.5 6.3 H6 M2.5 8 H6" stroke="#bbb" stroke-width="0.5"/></svg>
<div class="a t" style="left:386.80px;top:560.02px;font-size:7.0px;line-height:7.0px;color:#333;-webkit-text-stroke:0.06px #333">Re-formulate the company&#39;s culture to support</div>
<div class="a" style="left:374.20px;top:558.25px;width:186.10px;height:1.05px;background:#9a9a9a"></div>
<div class="a" style="left:375.50px;top:570.50px;width:183.50px;height:11.75px;background:#fff"></div>
<svg class="a" style="left:376.50px;top:571.30px" width="8.5" height="10.5" viewBox="0 0 8.5 10.5"><rect x="0.9" y="1.4" width="6.6" height="8.4" rx="1.3" fill="rgba(225,222,212,0.75)" stroke="#9c5a30" stroke-width="1.2"/><rect x="2.6" y="0.4" width="3.2" height="2" rx="0.6" fill="#c9b9a9" stroke="#9c5a30" stroke-width="0.6"/><path d="M2.5 4.5 H6 M2.5 6.3 H6 M2.5 8 H6" stroke="#bbb" stroke-width="0.5"/></svg>
<div class="a t" style="left:386.80px;top:571.77px;font-size:7.0px;line-height:7.0px;color:#333;-webkit-text-stroke:0.06px #333">Learn to recruit internationally</div>
<div class="a" style="left:374.20px;top:570.00px;width:186.10px;height:1.05px;background:#9a9a9a"></div>
<div class="a" style="left:375.50px;top:582.25px;width:183.50px;height:11.75px;background:#c8e1b1"></div>
<div class="a t" style="left:375.70px;top:583.52px;font-size:7.0px;line-height:7.0px;color:#333;-webkit-text-stroke:0.06px #333">80%</div>
<svg class="a" style="left:391.71px;top:583.25px" width="18" height="11.5" viewBox="0 0 18 11.5"><path d="M1.10 9.60 A7.9 7.9 0 0 1 2.77 4.74" fill="none" stroke="#fa5a5a" stroke-width="2.3"/><path d="M2.77 4.74 A7.9 7.9 0 0 1 6.04 2.28" fill="none" stroke="#fca453" stroke-width="2.3"/><path d="M6.04 2.28 A7.9 7.9 0 0 1 10.91 1.93" fill="none" stroke="#fbf03e" stroke-width="2.3"/><path d="M10.91 1.93 A7.9 7.9 0 0 1 16.90 9.60" fill="none" stroke="#62dd62" stroke-width="2.3"/><path d="M16.35 3.43 L10.29 11.13 Q7.31 11.01 7.71 8.07 Z" fill="#5fd35f" stroke="#111" stroke-width="0.95" stroke-linejoin="round"/></svg>
<div class="a t" style="left:413.51px;top:583.52px;font-size:7.0px;line-height:7.0px;color:#333;-webkit-text-stroke:0.06px #333">% of diversity-aware HR activities</div>
<div class="a" style="left:374.20px;top:581.75px;width:186.10px;height:1.05px;background:#9a9a9a"></div>
<div class="a" style="left:375.50px;top:594.00px;width:183.50px;height:12.55px;background:#e5e5e5"></div>
<div class="a t" style="left:375.70px;top:595.27px;font-size:7.0px;line-height:7.0px;color:#333;-webkit-text-stroke:0.06px #333">70%</div>
<svg class="a" style="left:391.71px;top:595.00px" width="18" height="11.5" viewBox="0 0 18 11.5"><path d="M1.10 9.60 A7.9 7.9 0 0 1 2.77 4.74" fill="none" stroke="#fa5a5a" stroke-width="2.3"/><path d="M2.77 4.74 A7.9 7.9 0 0 1 6.04 2.28" fill="none" stroke="#fca453" stroke-width="2.3"/><path d="M6.04 2.28 A7.9 7.9 0 0 1 10.91 1.93" fill="none" stroke="#fbf03e" stroke-width="2.3"/><path d="M10.91 1.93 A7.9 7.9 0 0 1 16.90 9.60" fill="none" stroke="#62dd62" stroke-width="2.3"/><path d="M15.17 2.25 L10.53 10.89 Q7.59 11.29 7.47 8.31 Z" fill="#5fd35f" stroke="#111" stroke-width="0.95" stroke-linejoin="round"/></svg>
<div class="a t" style="left:413.51px;top:595.27px;font-size:7.0px;line-height:7.0px;color:#333;-webkit-text-stroke:0.06px #333">Diversity culture awareness, %</div>
<div class="a" style="left:374.20px;top:593.50px;width:186.10px;height:1.05px;background:#9a9a9a"></div>
<div class="a" style="left:374.20px;top:514.00px;width:186.10px;height:92.55px;border:1.1px solid #9a9a9a;box-sizing:border-box"></div>
<svg class="a" style="left:240.00px;top:230.00px" width="240" height="32" viewBox="0 0 240 32"><path d="M14 7 V28.5" stroke="#ad9650" stroke-width="1.1" fill="none"/><path d="M14 10 Q14 16 20 16 H221 Q227.5 16 227.5 23 V28.5" stroke="#ad9650" stroke-width="1.1" fill="none"/></svg>
<svg class="a" style="left:251.00px;top:232.00px" width="6" height="5.5" viewBox="0 0 6 5.5"><path d="M3 0.3 L5.5 4.8 H0.5 Z" fill="#8a6d1a"/></svg>
<svg class="a" style="left:251.40px;top:255.90px" width="5.2" height="5.2" viewBox="0 0 5.2 5.2"><circle cx="2.6" cy="2.6" r="2.3" fill="#8a6d1a"/></svg>
<svg class="a" style="left:464.90px;top:256.10px" width="5.2" height="5.2" viewBox="0 0 5.2 5.2"><circle cx="2.6" cy="2.6" r="2.3" fill="#8a6d1a"/></svg>
<div class="a" style="left:253.45px;top:345.50px;width:1.10px;height:23.30px;background:#ad9650"></div>
<svg class="a" style="left:251.00px;top:341.50px" width="6" height="5.5" viewBox="0 0 6 5.5"><path d="M3 0.3 L5.5 4.8 H0.5 Z" fill="#8a6d1a"/></svg>
<svg class="a" style="left:251.40px;top:365.70px" width="5.2" height="5.2" viewBox="0 0 5.2 5.2"><circle cx="2.6" cy="2.6" r="2.3" fill="#8a6d1a"/></svg>
<div class="a" style="left:466.95px;top:345.50px;width:1.10px;height:23.30px;background:#ad9650"></div>
<svg class="a" style="left:464.50px;top:341.50px" width="6" height="5.5" viewBox="0 0 6 5.5"><path d="M3 0.3 L5.5 4.8 H0.5 Z" fill="#8a6d1a"/></svg>
<svg class="a" style="left:464.90px;top:365.70px" width="5.2" height="5.2" viewBox="0 0 5.2 5.2"><circle cx="2.6" cy="2.6" r="2.3" fill="#8a6d1a"/></svg>
<div class="a" style="left:253.45px;top:491.00px;width:1.10px;height:22.00px;background:#ad9650"></div>
<svg class="a" style="left:251.00px;top:487.00px" width="6" height="5.5" viewBox="0 0 6 5.5"><path d="M3 0.3 L5.5 4.8 H0.5 Z" fill="#8a6d1a"/></svg>
<svg class="a" style="left:251.40px;top:509.90px" width="5.2" height="5.2" viewBox="0 0 5.2 5.2"><circle cx="2.6" cy="2.6" r="2.3" fill="#8a6d1a"/></svg>
<div class="a" style="left:466.95px;top:455.30px;width:1.10px;height:57.70px;background:#ad9650"></div>
<svg class="a" style="left:464.50px;top:451.30px" width="6" height="5.5" viewBox="0 0 6 5.5"><path d="M3 0.3 L5.5 4.8 H0.5 Z" fill="#8a6d1a"/></svg>
<svg class="a" style="left:464.90px;top:509.90px" width="5.2" height="5.2" viewBox="0 0 5.2 5.2"><circle cx="2.6" cy="2.6" r="2.3" fill="#8a6d1a"/></svg>
<div class="a" style="left:25.00px;top:624.30px;width:104.80px;height:21.40px;border:2px solid #5a5a5a;box-sizing:border-box"></div>
<div class="a t" style="left:17.40px;top:630.78px;width:120px;text-align:center;font-size:7.7px;line-height:7.7px;color:#222;">Strategy map legend</div>
<div class="a" style="left:132.60px;top:624.30px;width:105.50px;height:21.40px;border:1px solid #999;box-shadow:inset 0 0 0 1px #fff;box-sizing:border-box;background:#f3f3f3"></div>
<div class="a t" style="left:125.35px;top:630.78px;width:120px;text-align:center;font-size:7.7px;line-height:7.7px;color:#222;">Strategic theme: All themes</div>
<div class="a" style="left:240.20px;top:624.30px;width:106.70px;height:21.40px;background:#95ae69;border:1px solid #7a9452;box-sizing:border-box"></div>
<div class="a t" style="left:233.55px;top:626.18px;width:120px;text-align:center;font-size:7.7px;line-height:7.7px;color:#fff;">Strategic theme: Customer</div>
<div class="a t" style="left:233.55px;top:634.38px;width:120px;text-align:center;font-size:7.7px;line-height:7.7px;color:#fff;">Intimacy</div>
<div class="a" style="left:349.20px;top:624.30px;width:105.40px;height:21.40px;border:1.8px solid #555;border-radius:2px;box-sizing:border-box;background:#c8e1b1"></div>
<div class="a t" style="left:341.90px;top:630.78px;width:120px;text-align:center;font-size:7.7px;line-height:7.7px;color:#222;">Leading indicator</div>
<div class="a" style="left:457.30px;top:624.30px;width:105.60px;height:21.40px;border:1.8px solid #555;border-radius:2px;box-sizing:border-box;background:#e6e6e6"></div>
<div class="a t" style="left:450.10px;top:630.78px;width:120px;text-align:center;font-size:7.7px;line-height:7.7px;color:#222;">Lagging indicator</div>
</body></html>
